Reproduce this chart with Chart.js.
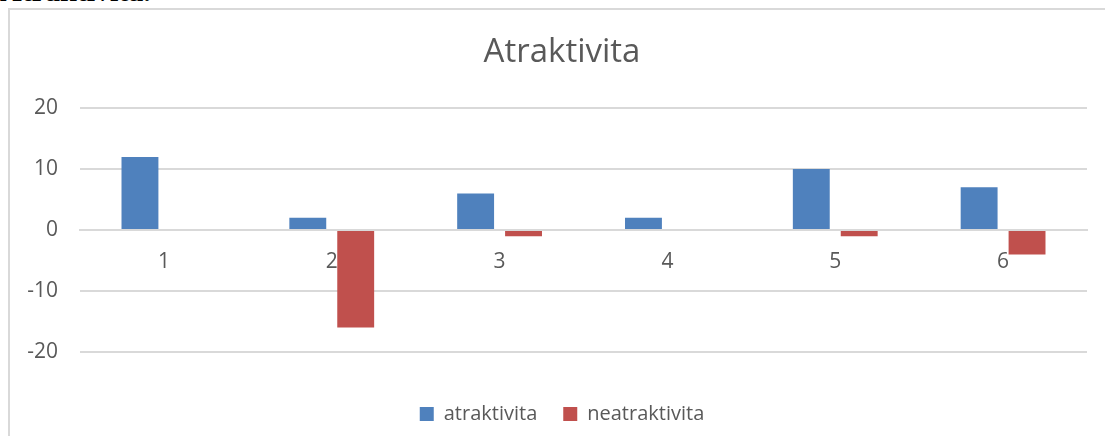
<!DOCTYPE html>
<html>
<head>
<meta charset="utf-8">
<script src="https://cdn.jsdelivr.net/npm/chart.js@4"></script>
<style>
  body { margin: 0; overflow: hidden; background: #fff; }
  #heading { position: absolute; left: 0; top: -24px; font: bold 30px/30px "Liberation Serif", serif; color: #000; white-space: nowrap; }
  #frame { position: absolute; left: 8px; top: 8px; width: 1110px; height: 450px; border-left: 2px solid #d9d9d9; border-top: 2px solid #d9d9d9; }
  #wrap { position: absolute; left: 10px; top: 10px; width: 1104px; height: 424px; }
</style>
</head>
<body>
<div id="heading">Atraktivita.</div>
<div id="frame"></div>
<div id="wrap"><canvas id="chart"></canvas></div>
<script>
// Data
const categories = ['1', '2', '3', '4', '5', '6'];
const atraktivita = [12, 2, 6, 2, 10, 7];
const neatraktivita = [0, -16, -1, 0, -1, -4];
const yTicks = [-20, -10, 0, 10, 20];

const textColor = '#595959';
const gridColor = '#d9d9d9';

const data = {
    labels: categories,
    datasets: [
        {
            label: 'atraktivita',
            data: atraktivita,
            backgroundColor: '#4f81bd', // blue
            categoryPercentage: 0.571,
            barPercentage: 0.77
        },
        {
            label: 'neatraktivita',
            data: neatraktivita,
            backgroundColor: '#c0504d', // red
            categoryPercentage: 0.571,
            barPercentage: 0.77
        }
    ]
};

new Chart(document.getElementById('chart'), {
    type: 'bar',
    data: data,
    options: {
        responsive: true,
        maintainAspectRatio: false,
        animation: false,
        layout: { padding: { left: 8, right: 8, top: 0, bottom: 0 } },
        plugins: {
            title: {
                display: true,
                text: 'Atraktivita',
                color: textColor,
                font: { family: 'Open Sans', size: 33, weight: 'normal' },
                padding: { top: 23, bottom: 35.5 }
            },
            legend: {
                position: 'bottom',
                // empty title only pushes the legend row down
                title: { display: true, text: '', font: { size: 10 }, padding: { top: 0, bottom: 14 } },
                labels: {
                    color: textColor,
                    font: { family: 'Open Sans', size: 20 },
                    boxWidth: 14,
                    boxHeight: 14,
                    padding: 26
                }
            },
            tooltip: { enabled: false }
        },
        scales: {
            x: {
                position: { y: 0 },
                grid: { display: false, drawTicks: false },
                border: { display: true, color: gridColor, width: 2 },
                ticks: {
                    color: textColor,
                    font: { family: 'Open Sans', size: 21 },
                    padding: 19,
                    maxRotation: 0
                }
            },
            y: {
                min: -20,
                max: 20,
                afterBuildTicks: scale => { scale.ticks = yTicks.map(v => ({ value: v })); },
                afterFit: scale => { scale.width = 62; },
                grid: { color: gridColor, lineWidth: 2, drawTicks: false },
                border: { display: false },
                ticks: {
                    color: textColor,
                    font: { family: 'Open Sans', size: 21 },
                    padding: 22,
                    callback: v => String(v)
                }
            },
            // empty right axis, only keeps the plot off the right edge
            yRight: {
                position: 'right',
                grid: { display: false, drawTicks: false },
                border: { display: false },
                ticks: { display: false },
                afterFit: scale => { scale.width = 19; }
            }
        }
    }
});
</script>
</body>
</html>
